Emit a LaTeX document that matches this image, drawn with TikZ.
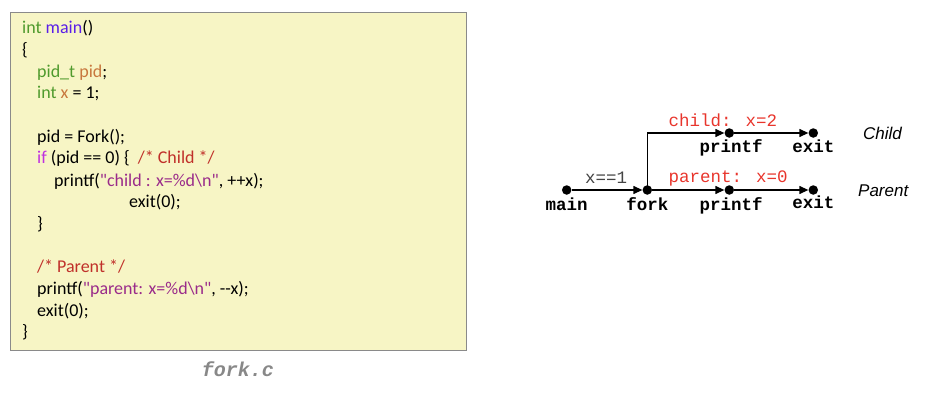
\documentclass[tikz,border=0pt]{standalone}
\usepackage{fontspec}
\setmainfont{Carlito}
\newfontfamily\codemono{Liberation Mono}
\newfontfamily\labsans{Liberation Sans}
\usetikzlibrary{arrows.meta}
\definecolor{boxfill}{HTML}{F7F5C5}
\definecolor{boxedge}{HTML}{8A8A8A}
\definecolor{kwgreen}{HTML}{4F9A2C}
\definecolor{fnblue}{HTML}{5A1FE8}
\definecolor{varorange}{HTML}{C8783E}
\definecolor{kwmag}{HTML}{C030E0}
\definecolor{cmtred}{HTML}{C0302A}
\definecolor{strpurple}{HTML}{9A2B8A}
\definecolor{outred}{HTML}{E8352C}
\definecolor{darkgray}{HTML}{444444}
\definecolor{filegray}{HTML}{888888}
\newcommand{\qq}{\textquotedbl}
\tikzset{
  codeline/.style={anchor=base west, inner sep=0pt, font=\fontsize{18}{21}\selectfont},
  dot/.style={circle, fill=black, inner sep=0pt, minimum size=9.5pt},
  arr/.style={line width=1.3pt, -{Triangle[length=9pt,width=8pt]}},
  fnlabel/.style={anchor=base, inner sep=0pt, font=\codemono\bfseries\fontsize{17.5}{20}\selectfont},
  outlabel/.style={anchor=base west, inner sep=0pt, text=outred, font=\codemono\fontsize{17.5}{20}\selectfont},
  proclabel/.style={anchor=base west, inner sep=0pt, font=\labsans\itshape\fontsize{17}{20}\selectfont},
}
\begin{document}
\begin{tikzpicture}[x=1pt,y=-1pt]
\useasboundingbox (0,0) rectangle (946,404);
% code box
\draw[draw=boxedge, fill=boxfill, line width=1pt] (10,12.3) rectangle (466.5,350.5);
\node[codeline] (l1) at (22,34) {\textcolor{kwgreen}{int} \textcolor{fnblue}{main}()};
\node[codeline] (l2) at (22,55.7) {\{};
\node[codeline] (l3) at (37,77.4) {\textcolor{kwgreen}{pid\_t} \textcolor{varorange}{pid};};
\node[codeline] (l4) at (37,99) {\textcolor{kwgreen}{int} \textcolor{varorange}{x} = 1;};
\node[codeline] (l6) at (37,142.5) {pid = Fork();};
\node[codeline] (l7) at (37,164) {\textcolor{kwmag}{if} (pid == 0) \{ \ \textcolor{cmtred}{/* Child */}};
\node[codeline] (l8) at (54,186) {printf(\textcolor{strpurple}{\qq child : x=\%d\textbackslash n\qq}, ++x);};
\node[codeline] (l9) at (129,207.5) {exit(0);};
\node[codeline] (l10) at (37,229) {\}};
\node[codeline] (l12) at (37,272.5) {\textcolor{cmtred}{/* Parent */}};
\node[codeline] (l13) at (37,294) {printf(\textcolor{strpurple}{\qq parent: x=\%d\textbackslash n\qq}, -{}-x);};
\node[codeline] (l14) at (37,316) {exit(0);};
\node[codeline] (l15) at (22,337.5) {\}};
\node[anchor=base, inner sep=0pt, text=filegray, font=\codemono\bfseries\itshape\fontsize{20}{24}\selectfont] (file) at (238,376) {fork.c};
% process graph
\node[dot] (main) at (566.7,190) {};
\node[dot] (fork) at (647.3,190) {};
\node[dot] (pprintf) at (729.3,190) {};
\node[dot] (pexit) at (813.3,190) {};
\node[dot] (cprintf) at (729.3,133) {};
\node[dot] (cexit) at (813.3,133) {};
\draw[arr] (main) -- (fork);
\draw[arr] (fork) -- (pprintf);
\draw[arr] (pprintf) -- (pexit);
\draw[arr] (fork.center) |- (cprintf);
\draw[arr] (cprintf) -- (cexit);
\node[fnlabel] (tmain) at (566.7,210) {main};
\node[fnlabel] (tfork) at (647.3,210) {fork};
\node[fnlabel] (tpprintf) at (731,210) {printf};
\node[fnlabel] (tpexit) at (813.3,208) {exit};
\node[fnlabel] (tcprintf) at (731,153) {printf};
\node[fnlabel] (tcexit) at (813.3,152.7) {exit};
\node[outlabel] (cout) at (668.3,126.7) {child: x=2};
\node[outlabel] (pout) at (668.3,182.7) {parent: x=0};
\node[outlabel, text=darkgray] (xval) at (585,183.3) {x==1};
\node[proclabel] (child) at (863,139.3) {Child};
\node[proclabel] (parent) at (858,196.7) {Parent};
\end{tikzpicture}
\end{document}
